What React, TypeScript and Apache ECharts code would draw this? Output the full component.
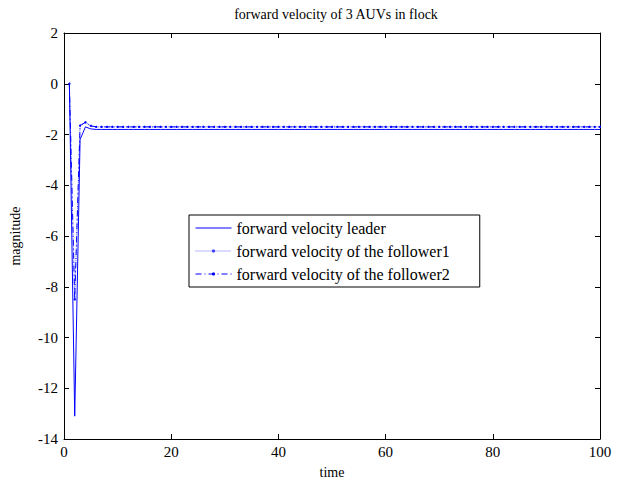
import React, { useEffect, useRef } from "react";
import * as echarts from "echarts";

// Sample instants (s)
const time = [
  1, 2, 3, 4, 5, 6, 7, 8, 9, 10,
  11, 12, 13, 14, 15, 16, 17, 18, 19, 20,
  21, 22, 23, 24, 25, 26, 27, 28, 29, 30,
  31, 32, 33, 34, 35, 36, 37, 38, 39, 40,
  41, 42, 43, 44, 45, 46, 47, 48, 49, 50,
  51, 52, 53, 54, 55, 56, 57, 58, 59, 60,
  61, 62, 63, 64, 65, 66, 67, 68, 69, 70,
  71, 72, 73, 74, 75, 76, 77, 78, 79, 80,
  81, 82, 83, 84, 85, 86, 87, 88, 89, 90,
  91, 92, 93, 94, 95, 96, 97, 98, 99, 100,
];

// Forward velocity of the leader
const leaderVelocity = [
  0, -13.1, -2.2, -1.7, -1.78, -1.8, -1.8, -1.8, -1.8, -1.8,
  -1.8, -1.8, -1.8, -1.8, -1.8, -1.8, -1.8, -1.8, -1.8, -1.8,
  -1.8, -1.8, -1.8, -1.8, -1.8, -1.8, -1.8, -1.8, -1.8, -1.8,
  -1.8, -1.8, -1.8, -1.8, -1.8, -1.8, -1.8, -1.8, -1.8, -1.8,
  -1.8, -1.8, -1.8, -1.8, -1.8, -1.8, -1.8, -1.8, -1.8, -1.8,
  -1.8, -1.8, -1.8, -1.8, -1.8, -1.8, -1.8, -1.8, -1.8, -1.8,
  -1.8, -1.8, -1.8, -1.8, -1.8, -1.8, -1.8, -1.8, -1.8, -1.8,
  -1.8, -1.8, -1.8, -1.8, -1.8, -1.8, -1.8, -1.8, -1.8, -1.8,
  -1.8, -1.8, -1.8, -1.8, -1.8, -1.8, -1.8, -1.8, -1.8, -1.8,
  -1.8, -1.8, -1.8, -1.8, -1.8, -1.8, -1.8, -1.8, -1.8, -1.8,
];

// Forward velocity of follower 1
const follower1Velocity = [
  0, -8.5, -1.65, -1.52, -1.66, -1.7, -1.7, -1.7, -1.7, -1.7,
  -1.7, -1.7, -1.7, -1.7, -1.7, -1.7, -1.7, -1.7, -1.7, -1.7,
  -1.7, -1.7, -1.7, -1.7, -1.7, -1.7, -1.7, -1.7, -1.7, -1.7,
  -1.7, -1.7, -1.7, -1.7, -1.7, -1.7, -1.7, -1.7, -1.7, -1.7,
  -1.7, -1.7, -1.7, -1.7, -1.7, -1.7, -1.7, -1.7, -1.7, -1.7,
  -1.7, -1.7, -1.7, -1.7, -1.7, -1.7, -1.7, -1.7, -1.7, -1.7,
  -1.7, -1.7, -1.7, -1.7, -1.7, -1.7, -1.7, -1.7, -1.7, -1.7,
  -1.7, -1.7, -1.7, -1.7, -1.7, -1.7, -1.7, -1.7, -1.7, -1.7,
  -1.7, -1.7, -1.7, -1.7, -1.7, -1.7, -1.7, -1.7, -1.7, -1.7,
  -1.7, -1.7, -1.7, -1.7, -1.7, -1.7, -1.7, -1.7, -1.7, -1.7,
];

// Forward velocity of follower 2
const follower2Velocity = [
  0, -8.5, -1.65, -1.52, -1.66, -1.7, -1.7, -1.7, -1.7, -1.7,
  -1.7, -1.7, -1.7, -1.7, -1.7, -1.7, -1.7, -1.7, -1.7, -1.7,
  -1.7, -1.7, -1.7, -1.7, -1.7, -1.7, -1.7, -1.7, -1.7, -1.7,
  -1.7, -1.7, -1.7, -1.7, -1.7, -1.7, -1.7, -1.7, -1.7, -1.7,
  -1.7, -1.7, -1.7, -1.7, -1.7, -1.7, -1.7, -1.7, -1.7, -1.7,
  -1.7, -1.7, -1.7, -1.7, -1.7, -1.7, -1.7, -1.7, -1.7, -1.7,
  -1.7, -1.7, -1.7, -1.7, -1.7, -1.7, -1.7, -1.7, -1.7, -1.7,
  -1.7, -1.7, -1.7, -1.7, -1.7, -1.7, -1.7, -1.7, -1.7, -1.7,
  -1.7, -1.7, -1.7, -1.7, -1.7, -1.7, -1.7, -1.7, -1.7, -1.7,
  -1.7, -1.7, -1.7, -1.7, -1.7, -1.7, -1.7, -1.7, -1.7, -1.7,
];

const seriesNames = [
  "forward velocity leader",
  "forward velocity of the follower1",
  "forward velocity of the follower2",
];

const FONT = "'Liberation Serif', 'Times New Roman', serif";

const pairs = (ys: number[]) => time.map((t, i) => [t, ys[i]]);

export default function App() {
  const ref = useRef<HTMLDivElement>(null);

  useEffect(() => {
    document.body.style.margin = "0";
    if (!ref.current) return;
    const chart = echarts.init(ref.current, null, { renderer: "svg" });

    const tickStyle = { inside: true, length: 5, lineStyle: { color: "#000", width: 1 } };
    const lineAxis = { show: true, onZero: false, lineStyle: { color: "#000", width: 1 } };

    chart.setOption({
      animation: false,
      backgroundColor: "#fff",
      title: {
        text: "forward velocity of 3 AUVs in flock",
        left: 331,
        top: 2,
        textAlign: "center",
        textStyle: { fontFamily: FONT, fontSize: 14, fontWeight: "normal", color: "#000" },
      },
      grid: { left: 62, right: 25, top: 33, bottom: 43, containLabel: false },
      legend: {
        orient: "vertical",
        left: 189,
        top: 215,
        data: [
          { name: seriesNames[0], itemStyle: { opacity: 0 } },
          { name: seriesNames[1] },
          { name: seriesNames[2] },
        ],
        backgroundColor: "#fff",
        borderColor: "#000",
        borderWidth: 1,
        padding: [3, 30, 3, 6],
        itemGap: 3,
        itemWidth: 36,
        itemHeight: 4,
        lineStyle: { width: 1 },
        textStyle: { fontFamily: FONT, fontSize: 16, color: "#000", lineHeight: 20 },
      },
      xAxis: [
        {
          type: "value",
          min: 0,
          max: 100,
          interval: 20,
          name: "time",
          nameLocation: "middle",
          nameGap: 26,
          nameTextStyle: { fontFamily: FONT, fontSize: 14, color: "#000" },
          axisLine: lineAxis,
          axisTick: tickStyle,
          axisLabel: { fontFamily: FONT, fontSize: 15, color: "#000", margin: 5 },
          splitLine: { show: false },
        },
        {
          type: "value",
          position: "top",
          min: 0,
          max: 100,
          interval: 20,
          axisLine: lineAxis,
          axisTick: tickStyle,
          axisLabel: { show: false },
          splitLine: { show: false },
        },
      ],
      yAxis: [
        {
          type: "value",
          min: -14,
          max: 2,
          interval: 2,
          name: "magnitude",
          nameLocation: "middle",
          nameGap: 42,
          nameTextStyle: { fontFamily: FONT, fontSize: 14, color: "#000" },
          axisLine: lineAxis,
          axisTick: tickStyle,
          axisLabel: { fontFamily: FONT, fontSize: 15, color: "#000", margin: 6 },
          splitLine: { show: false },
        },
        {
          type: "value",
          position: "right",
          min: -14,
          max: 2,
          interval: 2,
          axisLine: lineAxis,
          axisTick: tickStyle,
          axisLabel: { show: false },
          splitLine: { show: false },
        },
      ],
      series: [
        {
          name: seriesNames[0],
          type: "line",
          data: pairs(leaderVelocity),
          showSymbol: false,
          symbol: "none",
          color: "#0000ff",
          lineStyle: { color: "#0000ff", width: 1 },
          z: 3,
        },
        {
          name: seriesNames[1],
          type: "line",
          data: pairs(follower1Velocity),
          symbol: "circle",
          symbolSize: 2,
          color: "#3d3dff",
          itemStyle: { color: "#3d3dff" },
          lineStyle: { color: "#6b6bff", width: 1, type: [1, 1] },
          z: 2,
        },
        {
          name: seriesNames[2],
          type: "line",
          data: pairs(follower2Velocity),
          symbol: "circle",
          symbolSize: 2,
          color: "#0000ff",
          itemStyle: { color: "#0000ff" },
          lineStyle: { color: "#0000ff", width: 1, type: [6, 3, 1, 3] },
          z: 2,
        },
      ],
    });

    return () => chart.dispose();
  }, []);

  return <div ref={ref} style={{ width: 625, height: 484 }} />;
}
